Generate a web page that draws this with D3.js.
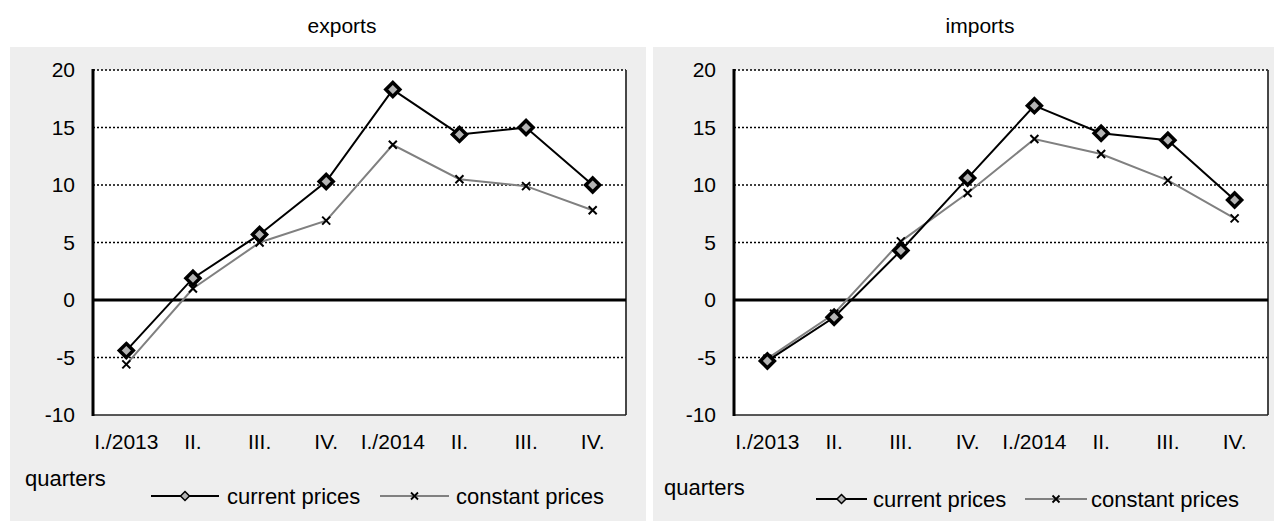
<!DOCTYPE html>
<html><head><meta charset="utf-8">
<script src="https://cdn.jsdelivr.net/npm/d3@7"></script>
<style>
html,body{margin:0;padding:0;background:#fff;}
svg text{font-family:Arial,"Liberation Sans",sans-serif;fill:#000;}
</style></head>
<body>
<svg id="chart" width="1274" height="521"></svg>
<script>
const categories = ["I./2013","II.","III.","IV.","I./2014","II.","III.","IV."];
const yTicks = [-10,-5,0,5,10,15,20];
const exportsCurrent  = [-4.4, 1.9, 5.7, 10.3, 18.3, 14.4, 15.0, 10.0];
const exportsConstant = [-5.6, 1.0, 5.0, 6.9, 13.5, 10.5, 9.9, 7.8];
const importsCurrent  = [-5.3, -1.5, 4.3, 10.6, 16.9, 14.5, 13.9, 8.7];
const importsConstant = [-5.1, -1.2, 5.1, 9.3, 14.0, 12.7, 10.4, 7.1];
const seriesNames = ["current prices","constant prices"];
const xAxisTitle = "quarters";
const panelTitles = ["exports","imports"];

const svg = d3.select("#chart");
const panels = [
  {title:panelTitles[0], cur:exportsCurrent, con:exportsConstant,
   gx:10, gw:636, L:93, R:626, tx:342,
   qx:25, qy:486, ly:496, l1:[151,219], t1:227, l2:[380,449], t2:456},
  {title:panelTitles[1], cur:importsCurrent, con:importsConstant,
   gx:653, gw:621, L:734, R:1268, tx:980,
   qx:664, qy:495, ly:499, l1:[816,867], t1:873, l2:[1025,1087], t2:1091}
];
const T = 70, B = 415;
const diamond = s => `M0,${-s}L${s},0L0,${s}L${-s},0Z`;
const cross = s => `M${-s},${-s}L${s},${s}M${-s},${s}L${s},${-s}`;
const FONT = "Arial, 'Liberation Sans', sans-serif";

panels.forEach(p => {
  const g = svg.append("g");
  g.append("rect").attr("x",p.gx).attr("y",47).attr("width",p.gw).attr("height",474).attr("fill","#eeeeee");
  g.append("text").attr("x",p.tx).attr("y",33).attr("text-anchor","middle").style("font-size","21px").text(p.title);

  const x = d3.scaleBand().domain(d3.range(categories.length)).range([p.L,p.R]).padding(0);
  const y = d3.scaleLinear().domain([-10,20]).range([B,T]);
  const cx = i => x(i) + x.bandwidth()/2;

  g.append("rect").attr("x",p.L).attr("y",T).attr("width",p.R-p.L).attr("height",B-T).attr("fill","#fff");
  g.selectAll(".grid").data(yTicks.filter(v => v!==0 && v!==-10)).join("line")
    .attr("x1",p.L).attr("x2",p.R).attr("y1",d=>y(d)).attr("y2",d=>y(d))
    .attr("stroke","#000").attr("stroke-width",1.5).attr("stroke-dasharray","2,2");
  g.append("line").attr("x1",p.R).attr("x2",p.R).attr("y1",T).attr("y2",B).attr("stroke","#333").attr("stroke-width",1.8);
  g.append("line").attr("x1",p.L).attr("x2",p.R).attr("y1",B).attr("y2",B).attr("stroke","#222").attr("stroke-width",1.6);
  g.append("line").attr("x1",p.L).attr("x2",p.R).attr("y1",y(0)).attr("y2",y(0)).attr("stroke","#000").attr("stroke-width",3);
  g.append("line").attr("x1",p.L).attr("x2",p.L).attr("y1",T-1).attr("y2",B+1).attr("stroke","#000").attr("stroke-width",3);

  const ya = g.append("g").attr("transform",`translate(${p.L-2},0)`)
    .call(d3.axisLeft(y).tickValues(yTicks).tickSize(0).tickPadding(16).tickFormat(d => String(d)));
  ya.select(".domain").remove();
  ya.selectAll("text").style("font-size","21px").style("font-family",FONT).attr("fill","#000");

  const xa = g.append("g").attr("transform",`translate(0,${B})`)
    .call(d3.axisBottom(x).tickSize(0).tickPadding(0).tickFormat(i => categories[i]));
  xa.select(".domain").remove();
  xa.selectAll("text").attr("dy",null).attr("y",34).style("font-size","21px").style("font-family",FONT).attr("fill","#000");

  const line = d3.line().x((d,i)=>cx(i)).y(d=>y(d));
  g.append("path").datum(p.con).attr("d",line).attr("fill","none").attr("stroke","#808080").attr("stroke-width",2);
  g.append("path").datum(p.cur).attr("d",line).attr("fill","none").attr("stroke","#000").attr("stroke-width",2);

  g.selectAll(".xm").data(p.con).join("path")
    .attr("transform",(d,i)=>`translate(${cx(i)},${y(d)})`).attr("d",cross(4))
    .attr("stroke","#000").attr("stroke-width",2).attr("fill","none");
  g.selectAll(".dm").data(p.cur).join("path")
    .attr("transform",(d,i)=>`translate(${cx(i)},${y(d)})`).attr("d",diamond(7))
    .attr("stroke","#000").attr("stroke-width",3.5).attr("fill","#b4b4b4").attr("stroke-linejoin","miter");

  g.append("text").attr("x",p.qx).attr("y",p.qy).style("font-size","22px").text(xAxisTitle);
  g.append("line").attr("x1",p.l1[0]).attr("x2",p.l1[1]).attr("y1",p.ly).attr("y2",p.ly).attr("stroke","#000").attr("stroke-width",2);
  g.append("path").attr("transform",`translate(${(p.l1[0]+p.l1[1])/2},${p.ly})`).attr("d",diamond(4.5))
    .attr("stroke","#000").attr("stroke-width",1.5).attr("fill","#b4b4b4");
  g.append("text").attr("x",p.t1).attr("y",p.ly+8).style("font-size","22px").text(seriesNames[0]);
  g.append("line").attr("x1",p.l2[0]).attr("x2",p.l2[1]).attr("y1",p.ly).attr("y2",p.ly).attr("stroke","#808080").attr("stroke-width",2);
  g.append("path").attr("transform",`translate(${(p.l2[0]+p.l2[1])/2},${p.ly})`).attr("d",cross(3.5))
    .attr("stroke","#000").attr("stroke-width",1.8).attr("fill","none");
  g.append("text").attr("x",p.t2).attr("y",p.ly+8).style("font-size","22px").text(seriesNames[1]);
});
</script>
</body></html>
